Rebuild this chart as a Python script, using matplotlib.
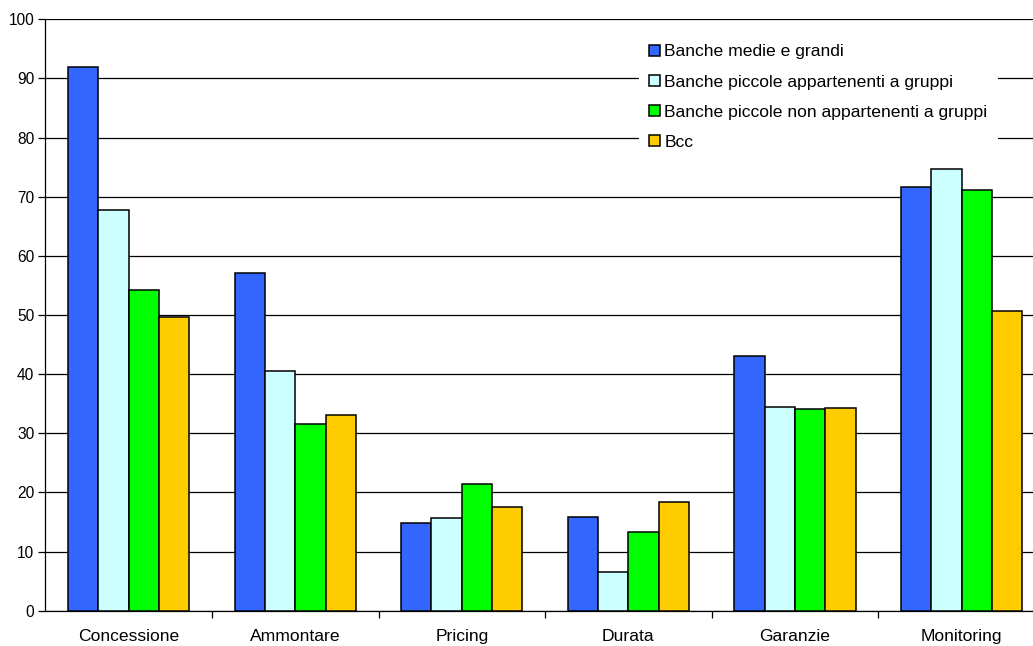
import numpy as np
import matplotlib
matplotlib.use("Agg")
import matplotlib.pyplot as plt

plt.rcParams['font.family'] = ['Liberation Sans', 'DejaVu Sans']

categorie = ["Concessione", "Ammontare", "Pricing", "Durata", "Garanzie", "Monitoring"]
serie = ["Banche medie e grandi",
         "Banche piccole appartenenti a gruppi",
         "Banche piccole non appartenenti a gruppi",
         "Bcc"]
medie_grandi = [92.0, 57.1, 14.9, 15.8, 43.0, 71.6]
piccole_gruppi = [67.7, 40.6, 15.7, 6.5, 34.4, 74.7]
piccole_non_gruppi = [54.2, 31.5, 21.4, 13.3, 34.1, 71.1]
bcc = [49.6, 33.1, 17.6, 18.3, 34.2, 50.6]
colori = ["#3366FF", "#CCFFFF", "#00FF00", "#FFCC00"]

valori = [medie_grandi, piccole_gruppi, piccole_non_gruppi, bcc]

fig = plt.figure(figsize=(10.33, 6.46), dpi=100)
# l'area del grafico esce a destra come nell'originale
ax = fig.add_axes([45.3 / 1033, 1 - 610.7 / 646, 999.6 / 1033, 591.4 / 646])

x = np.arange(len(categorie))
larg = 0.182
for i, (nome, v, c) in enumerate(zip(serie, valori, colori)):
    ax.bar(x + (i - 1.5) * larg, v, larg, color=c, edgecolor="black",
           linewidth=1.1, label=nome, zorder=3)

ax.set_xlim(-0.5, len(categorie) - 0.5)
ax.set_ylim(0, 100)
ax.set_yticks(range(0, 101, 10))
ax.yaxis.grid(True, color="black", linewidth=0.9, zorder=0)
ax.set_axisbelow(True)

ax.set_xticks(x)
ax.set_xticklabels(categorie, fontsize=12.6)
ax.set_xticks(np.arange(0.5, len(categorie) - 0.5, 1), minor=True)
ax.tick_params(axis="x", which="major", length=0, pad=13)
ax.tick_params(axis="x", which="minor", length=5, width=0.9)
ax.tick_params(axis="y", length=5, width=0.9, pad=3, labelsize=11.2)

for s in ["top", "right"]:
    ax.spines[s].set_visible(False)
for s in ["left", "bottom"]:
    ax.spines[s].set_linewidth(0.9)

leg = ax.legend(loc="upper left", bbox_to_anchor=(0.585, 0.99), fontsize=12.6,
                frameon=True, fancybox=False, handlelength=0.6, handleheight=0.6,
                handletextpad=0.25, labelspacing=0.86, borderpad=0.6)
leg.get_frame().set_edgecolor("none")
leg.get_frame().set_facecolor("white")
leg.get_frame().set_alpha(1)
leg.set_zorder(5)

fig.savefig("out.png", dpi=100)
